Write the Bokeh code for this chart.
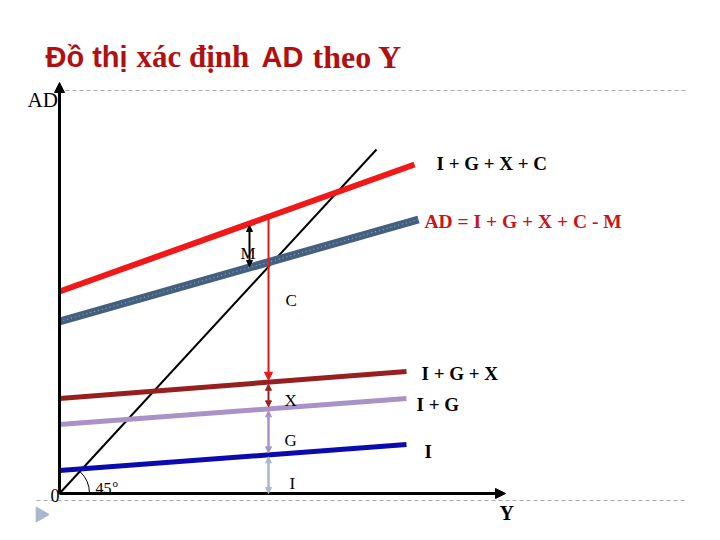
from bokeh.plotting import figure
from bokeh.models import Range1d, Arrow, NormalHead, TeeHead
from bokeh.core.properties import value
from bokeh.embed import file_html
from bokeh.resources import INLINE
import math

# ---- data ----
line_names = ["I", "I + G", "I + G + X", "I + G + X + C", "AD = I + G + X + C - M"]
y_start = [0, 0, 0, 0, 0]
y_end = [347, 347, 347, 355, 359]
ad_start = [23, 69, 95, 202, 172]
ad_end = [49, 95, 122, 329, 274]
line_colors = ["#0A0AB0", "#A992C8", "#96201F", "#F01818", "#44607F"]
line_widths = [5, 5, 5, 6, 8]

diag_y = [0, 317]      # 45 degree line
diag_ad = [0, 344]

y_equil = 209          # Y where the components are shown
y_m = 190              # Y where M is shown

SERIF = value("Liberation Serif")
SANS = value("Liberation Sans")

p = figure(width=704, height=524, output_backend="svg", toolbar_location=None,
           x_range=Range1d(-59, 645), y_range=Range1d(-31, 493),
           min_border=0, min_border_left=0, min_border_right=0,
           min_border_top=0, min_border_bottom=0)
p.axis.visible = False
p.xaxis.visible = False
p.yaxis.visible = False
p.grid.visible = False
p.outline_line_color = None
p.background_fill_color = "white"


def level(i, x):
    return ad_start[i] + (ad_end[i] - ad_start[i]) * (x - y_start[i]) / (y_end[i] - y_start[i])


# dashed guide lines (slide decoration)
p.line([6, 626], [403, 403], line_color="#AAAAAA", line_width=1, line_dash="4 3")
p.line([-23, 626], [-7, -7], line_color="#AAAAAA", line_width=1, line_dash="4 3")
p.scatter([-19], [-21], marker="triangle", size=15, angle=-math.pi / 2,
          fill_color="#A8B8CC", line_color="#A8B8CC")

# axes with arrows
p.add_layout(Arrow(x_start=0, y_start=0, x_end=0, y_end=411, line_width=3, line_color="black",
                   end=NormalHead(size=10, fill_color="black", line_color="black")))
p.add_layout(Arrow(x_start=0, y_start=0, x_end=446, y_end=0, line_width=3, line_color="black",
                   end=NormalHead(size=10, fill_color="black", line_color="black")))

# 45 degree line
p.line(diag_y, diag_ad, line_color="black", line_width=2)
p.arc(x=[0], y=[0], radius=30, start_angle=0, end_angle=math.atan2(diag_ad[1], diag_y[1]),
      line_color="black", line_width=1)

# aggregate lines
for i in range(len(line_names)):
    p.line([y_start[i], y_end[i]], [ad_start[i], ad_end[i]],
           line_color=line_colors[i], line_width=line_widths[i])
# dotted texture on AD line
p.line([y_start[4], y_end[4]], [ad_start[4], ad_end[4]], line_color="white",
       line_width=1, line_dash="1 3", line_alpha=0.5)

# component arrows at y_equil
red_top = level(3, y_equil)
igx = level(2, y_equil)
ig = level(1, y_equil)
i_lvl = level(0, y_equil)

p.add_layout(Arrow(x_start=y_equil, y_start=red_top, x_end=y_equil, y_end=igx + 2,
                   line_color="#E81818", line_width=2,
                   start=TeeHead(size=10, line_color="#E81818", line_width=2),
                   end=NormalHead(size=8, fill_color="#E81818", line_color="#E81818")))
p.add_layout(Arrow(x_start=y_equil, y_start=igx - 2, x_end=y_equil, y_end=ig + 2,
                   line_color="#96201F", line_width=2,
                   start=NormalHead(size=6, fill_color="#96201F", line_color="#96201F"),
                   end=NormalHead(size=6, fill_color="#96201F", line_color="#96201F")))
p.add_layout(Arrow(x_start=y_equil, y_start=ig - 2, x_end=y_equil, y_end=i_lvl + 2,
                   line_color="#A992C8", line_width=2.5,
                   start=NormalHead(size=6, fill_color="#A992C8", line_color="#A992C8"),
                   end=NormalHead(size=6, fill_color="#A992C8", line_color="#A992C8")))
p.add_layout(Arrow(x_start=y_equil, y_start=i_lvl - 2, x_end=y_equil, y_end=0,
                   line_color="#A7B9CF", line_width=2.5,
                   start=NormalHead(size=6, fill_color="#A7B9CF", line_color="#A7B9CF"),
                   end=NormalHead(size=6, fill_color="#A7B9CF", line_color="#A7B9CF")))
p.add_layout(Arrow(x_start=y_m, y_start=level(3, y_m) - 2, x_end=y_m, y_end=level(4, y_m) + 1,
                   line_color="black", line_width=2,
                   start=NormalHead(size=6, fill_color="black", line_color="black"),
                   end=NormalHead(size=6, fill_color="black", line_color="black")))

# component labels
p.text(x=[y_m - 9, y_equil + 17, y_equil + 16, y_equil + 16, y_equil + 21],
       y=[240, 193, 93, 53, 10], text=["M", "C", "X", "G", "I"],
       text_font=SERIF, text_font_size="17px", text_color="black",
       text_baseline="alphabetic", text_align="left")

# line labels at right ends
p.text(x=[y_end[3] + 22], y=[330], text=[line_names[3]], text_font=SERIF,
       text_font_size="19px", text_font_style="bold", text_color="black",
       text_baseline="alphabetic")
p.text(x=[y_end[4] + 6], y=[272], text=[line_names[4]], text_font=SERIF,
       text_font_size="19.5px", text_font_style="bold", text_color="#C8141C",
       text_baseline="alphabetic")
p.text(x=[y_end[2] + 15, y_end[1] + 10, y_end[0] + 18], y=[120, 89, 42],
       text=[line_names[2], line_names[1], line_names[0]], text_font=SERIF,
       text_font_size="19px", text_font_style="bold", text_color="black",
       text_baseline="alphabetic")

# axis labels
p.text(x=[-32], y=[394], text=["AD"], text_font=SERIF, text_font_size="21px",
       text_baseline="alphabetic")
p.text(x=[-9], y=[-2], text=["0"], text_font=SERIF, text_font_size="18px",
       text_baseline="alphabetic")
p.text(x=[36], y=[5], text=["45"], text_font=SERIF, text_font_size="16px",
       text_baseline="alphabetic")
p.text(x=[53], y=[11], text=["o"], text_font=SERIF, text_font_size="11px",
       text_baseline="alphabetic")
p.text(x=[440], y=[-19], text=["Y"], text_font=SERIF, text_font_size="20px",
       text_font_style="bold", text_baseline="alphabetic")

# title (mixed fonts)
title_parts = ["Đồ thị", "xác định", "AD", "theo Y"]
title_x = [-14, 77, 202, 253]
title_fonts = [SANS, SERIF, SANS, SERIF]
title_sizes = ["29px", "31px", "29px", "32px"]
for t, x, f, s in zip(title_parts, title_x, title_fonts, title_sizes):
    p.text(x=[x], y=[437], text=[t], text_font=f, text_font_size=s,
           text_font_style="bold", text_color="#B01010", text_baseline="alphabetic")

open("out.html", "w").write(file_html(p, INLINE))
